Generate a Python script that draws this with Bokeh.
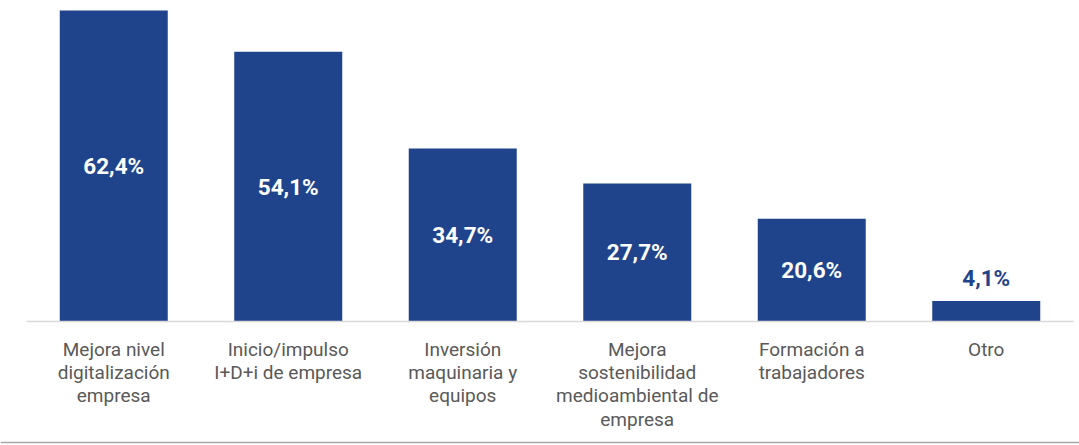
from bokeh.plotting import figure
from bokeh.models import Range1d, Span, ColumnDataSource
from bokeh.core.properties import value
from bokeh.embed import file_html
from bokeh.resources import INLINE

categories = ["Mejora nivel\ndigitalización\nempresa", "Inicio/impulso\nI+D+i de empresa",
              "Inversión\nmaquinaria y\nequipos", "Mejora\nsostenibilidad\nmedioambiental de\nempresa",
              "Formación a\ntrabajadores", "Otro"]
values = [62.4, 54.1, 34.7, 27.7, 20.6, 4.1]
labels = ["62,4%", "54,1%", "34,7%", "27,7%", "20,6%", "4,1%"]

W, H = 1079, 445
px_left, px_right = 26, 1073
base_px = 321
ppu = 311 / 62.4
ncat = len(categories)
cw = (px_right - px_left) / ncat
x0 = -px_left / cw
x1 = ncat + (W - px_right) / cw
y1 = base_px / ppu
y0 = -(H - base_px) / ppu

BLUE = "#1f448b"
p = figure(width=W, height=H, output_backend="svg", toolbar_location=None,
           x_range=Range1d(x0, x1), y_range=Range1d(y0, y1),
           min_border=0, min_border_left=0, min_border_right=0, min_border_top=0, min_border_bottom=0)
p.axis.visible = False
p.grid.visible = False
p.outline_line_color = None
p.background_fill_color = "white"
p.border_fill_color = "white"

xs = [i + 0.5 for i in range(ncat)]
src = ColumnDataSource(dict(x=xs, top=values, cat=categories, lab=labels))
p.vbar(x="x", top="top", bottom=0, width=108 / cw, source=src, fill_color=BLUE, line_color=None)

# axis base line
p.segment(x0=[0], y0=[0], x1=[ncat], y1=[0], line_color="#d9d9d9", line_width=1.5)

# value labels
inside = [v >= 10 for v in values]
ly = [v / 2 if ins else v + 23 / ppu for v, ins in zip(values, inside)]
lc = ["white" if ins else BLUE for ins in inside]
lsrc = ColumnDataSource(dict(x=xs, y=ly, lab=labels, c=lc))
p.text(x="x", y="y", text="lab", source=lsrc, text_color="c", text_align="center",
       text_baseline="middle", text_font=value("Roboto"), text_font_style="bold",
       text_font_size="22.5px")

# category labels
p.text(x=xs, y=[-(337 - base_px) / ppu] * ncat, text=categories, text_color="#595959",
       text_align="center", text_baseline="top", text_font=value("Roboto"),
       text_font_size="19px", text_line_height=1.02)

# bottom rule
p.add_layout(Span(location=-(442 - base_px) / ppu, dimension="width", line_color="#a6a6a6", line_width=1.5))

html = file_html(p, INLINE)
html = html.replace("<head>", "<head><style>html,body{margin:0;padding:0;overflow:hidden}</style>", 1)
open("out.html", "w").write(html)
